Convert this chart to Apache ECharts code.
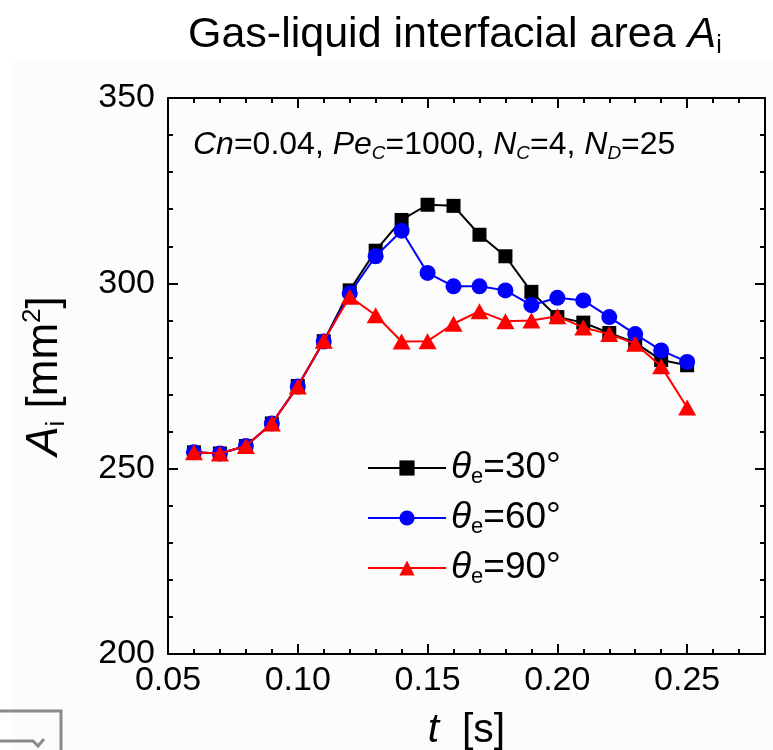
<!DOCTYPE html>
<html>
<head>
<meta charset="utf-8">
<script src="https://cdn.jsdelivr.net/npm/echarts@6/dist/echarts.min.js"></script>
<style>
html, body { margin: 0; padding: 0; background: #fff; }
#chart-panel { width: 773px; height: 750px; }
</style>
</head>
<body>
<div id="chart-panel"></div>
<script>
// t [s]
var times = [0.06, 0.07, 0.08, 0.09, 0.10, 0.11, 0.12, 0.13, 0.14, 0.15,
             0.16, 0.17, 0.18, 0.19, 0.20, 0.21, 0.22, 0.23, 0.24, 0.25];
// A_i [mm^2] for each contact angle
var area30 = [254.4, 254.1, 256.1, 262.2, 272.3, 284.4, 298.1, 308.8, 317.1, 321.2,
              320.9, 313.1, 307.3, 297.7, 290.9, 289.4, 286.6, 284.0, 279.3, 277.9];
var area60 = [254.4, 254.1, 256.1, 262.2, 272.2, 284.3, 297.3, 307.3, 314.2, 302.8,
              299.2, 299.2, 298.1, 294.1, 296.1, 295.4, 290.9, 286.3, 281.9, 278.8];
var area90 = [254.4, 254.1, 256.1, 262.2, 272.2, 284.5, 296.4, 291.4, 284.3, 284.4,
              289.1, 292.5, 289.8, 290.0, 291.1, 288.1, 286.3, 283.7, 277.6, 266.5];
var seriesNames = ['θe=30°', 'θe=60°', 'θe=90°'];
var xTicks = [0.05, 0.10, 0.15, 0.20, 0.25];
var yTicks = [200, 250, 300, 350];
var xMax = 0.28;

var FONT = 'Liberation Sans, Arial, sans-serif';

function pairs(vals) {
    return times.map(function (t, i) { return [t, vals[i]]; });
}

var myChart = echarts.init(document.getElementById('chart-panel'));

var tickMajor = { show: true, inside: true, length: 10, lineStyle: { color: '#000', width: 2 } };
var tickMinor = { show: true, inside: true, length: 5, lineStyle: { color: '#000', width: 2 } };
var axLine = { show: true, onZero: false, lineStyle: { color: '#000', width: 2 } };

var xBase = {
    type: 'value', min: xTicks[0], max: xMax,
    splitLine: { show: false }
};
function xAxisOf(extra) { return Object.assign({}, xBase, extra); }

var yBase = {
    type: 'value', min: yTicks[0], max: yTicks[yTicks.length - 1], interval: 50,
    splitLine: { show: false },
    minorTick: Object.assign({ splitNumber: 5 }, tickMinor)
};
function yAxisOf(extra) { return Object.assign({}, yBase, extra); }

myChart.setOption({
    backgroundColor: '#fff',
    animation: false,
    textStyle: { fontFamily: FONT },
    title: {
        text: '{n|Gas-liquid interfacial area }{i|A}{s|i}',
        left: 183,
        top: 6,
        textStyle: {
            fontWeight: 'normal',
            rich: {
                n: { fontSize: 43, fontFamily: FONT, fontWeight: 'normal', color: '#000', lineHeight: 48 },
                i: { fontSize: 43, fontFamily: FONT, fontWeight: 'normal', fontStyle: 'italic', color: '#000', lineHeight: 48 },
                s: { fontSize: 25, fontFamily: FONT, fontWeight: 'normal', color: '#000', lineHeight: 12, verticalAlign: 'bottom' }
            }
        }
    },
    graphic: [
        {
            type: 'rect', z: -10, silent: true,
            shape: { x: 12, y: 62, width: 761, height: 688 },
            style: { fill: '#fcfcfc' }
        },
        {
            type: 'rect', z: 10, silent: true,
            shape: { x: -5, y: 711, width: 66, height: 50 },
            style: { fill: 'none', stroke: '#8a8a8a', lineWidth: 3 }
        },
        {
            type: 'polyline', z: 10, silent: true,
            shape: { points: [[0, 741], [33, 741], [38, 746], [44, 739]] },
            style: { fill: 'none', stroke: '#8a8a8a', lineWidth: 3 }
        },
        {
            type: 'text', z: 20, left: 193, top: 127,
            style: {
                text: '{i|Cn}=0.04, {i|Pe}{s|C}=1000, {i|N}{s|C}=4, {i|N}{s|D}=25',
                fontSize: 32, fontFamily: FONT, fill: '#000', lineHeight: 36,
                rich: {
                    i: { fontSize: 32, fontFamily: FONT, fontStyle: 'italic', fill: '#000', lineHeight: 36 },
                    s: { fontSize: 19, fontFamily: FONT, fontStyle: 'italic', fill: '#000', lineHeight: 6, verticalAlign: 'bottom' }
                }
            }
        }
    ],
    grid: { left: 168, right: 8, top: 98, bottom: 96, containLabel: false, outerBoundsMode: 'none' },
    legend: {
        data: seriesNames,
        orient: 'vertical',
        left: 362,
        top: 443,
        itemWidth: 78,
        itemHeight: 19,
        itemGap: 10,
        formatter: function (name) { return '{i|θ}{s|e}' + name.slice(2); },
        textStyle: {
            fontSize: 37, fontFamily: FONT, color: '#000', lineHeight: 40,
            rich: {
                i: { fontSize: 37, fontFamily: FONT, fontStyle: 'italic', color: '#000', lineHeight: 40 },
                s: { fontSize: 22, fontFamily: FONT, color: '#000', lineHeight: 2, verticalAlign: 'bottom' }
            }
        }
    },
    xAxis: [
        xAxisOf({
            position: 'bottom', interval: 0.05,
            axisLine: axLine, axisTick: tickMajor,
            axisLabel: {
                show: true, margin: 10, fontSize: 34, fontFamily: FONT, color: '#000',
                showMaxLabel: false,
                formatter: function (v) { return v.toFixed(2); }
            },
            name: '{i|t}{n|  [s]}',
            nameLocation: 'middle',
            nameGap: 56,
            nameTextStyle: {
                rich: {
                    i: { fontSize: 41, fontFamily: FONT, fontStyle: 'italic', color: '#000' },
                    n: { fontSize: 41, fontFamily: FONT, color: '#000' }
                }
            }
        }),
        xAxisOf({ position: 'bottom', interval: 0.01, axisLine: { show: false }, axisTick: tickMinor, axisLabel: { show: false } }),
        xAxisOf({ position: 'top', interval: 0.05, axisLine: axLine, axisTick: tickMajor, axisLabel: { show: false } }),
        xAxisOf({ position: 'top', interval: 0.01, axisLine: { show: false }, axisTick: tickMinor, axisLabel: { show: false } })
    ],
    yAxis: [
        yAxisOf({
            position: 'left',
            axisLine: axLine, axisTick: tickMajor,
            minorTick: Object.assign({ splitNumber: 5 }, tickMinor),
            axisLabel: { show: true, margin: 13, fontSize: 34, fontFamily: FONT, color: '#000' },
            name: '{i|A}{s|i}{n| [mm}{p|2}{n|]}',
            nameLocation: 'middle',
            nameRotate: 90,
            nameGap: 98,
            nameTextStyle: {
                rich: {
                    i: { fontSize: 44, fontFamily: FONT, fontStyle: 'italic', color: '#000', lineHeight: 50 },
                    n: { fontSize: 44, fontFamily: FONT, color: '#000', lineHeight: 50 },
                    s: { fontSize: 26, fontFamily: FONT, color: '#000', lineHeight: 10, verticalAlign: 'bottom' },
                    p: { fontSize: 26, fontFamily: FONT, color: '#000', lineHeight: 18, verticalAlign: 'top' }
                }
            }
        }),
        yAxisOf({ position: 'right', axisLine: axLine, axisTick: tickMajor, axisLabel: { show: false } })
    ],
    series: [
        {
            name: seriesNames[0], type: 'line', xAxisIndex: 0, yAxisIndex: 0,
            data: pairs(area30),
            symbol: 'rect', symbolSize: 14,
            itemStyle: { color: '#000' },
            lineStyle: { color: '#000', width: 2 },
            z: 2
        },
        {
            name: seriesNames[1], type: 'line', xAxisIndex: 0, yAxisIndex: 0,
            data: pairs(area60),
            symbol: 'circle', symbolSize: 16,
            itemStyle: { color: '#0000ff' },
            lineStyle: { color: '#0000ff', width: 2 },
            z: 3
        },
        {
            name: seriesNames[2], type: 'line', xAxisIndex: 0, yAxisIndex: 0,
            data: pairs(area90),
            symbol: 'triangle', symbolSize: [18, 16],
            itemStyle: { color: '#ff0000' },
            lineStyle: { color: '#ff0000', width: 2 },
            z: 4
        }
    ]
});
</script>
</body>
</html>
